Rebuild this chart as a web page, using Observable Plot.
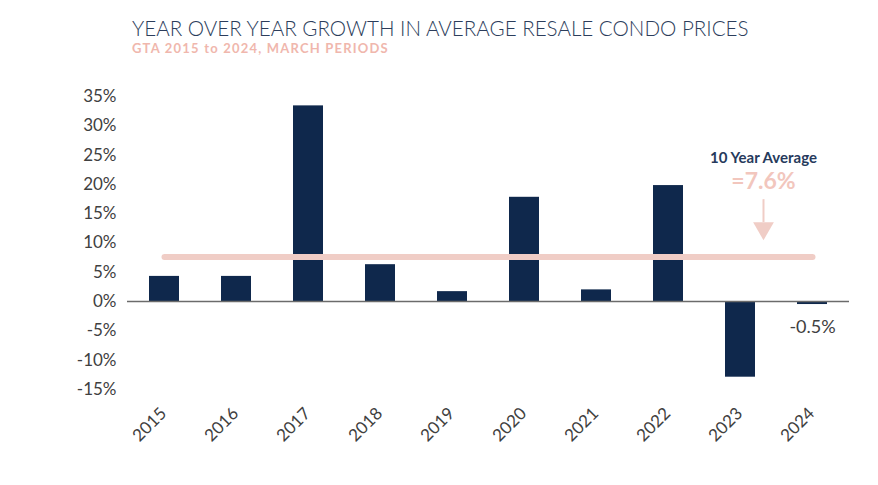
<!DOCTYPE html>
<html>
<head>
<meta charset="utf-8">
<script src="https://cdn.jsdelivr.net/npm/d3@7"></script>
<script src="https://cdn.jsdelivr.net/npm/@observablehq/plot@0.6"></script>
<style>
  html, body { margin: 0; padding: 0; background: #fff; }
  #wrap { width: 878px; height: 485px; position: relative; overflow: hidden; }
  #head { position: relative; height: 70px; }
  #title { position: absolute; left: 132px; top: 17.5px; font-family: Lato, sans-serif; font-weight: 300; font-size: 20.6px; line-height: 20.6px; color: #2c3d5b; white-space: nowrap; }
  #subtitle { position: absolute; left: 132px; top: 41.8px; font-family: Lato, sans-serif; font-weight: 700; font-size: 13px; line-height: 13px; letter-spacing: 1.2px; color: #f0b7ad; white-space: nowrap; }
  svg { display: block; }
</style>
</head>
<body>
<div id="wrap">
  <div id="head">
    <div id="title">YEAR OVER YEAR GROWTH IN AVERAGE RESALE CONDO PRICES</div>
    <div id="subtitle">GTA 2015 to 2024, MARCH PERIODS</div>
  </div>
  <div id="chart"></div>
</div>
<script>
const years = ["2015", "2016", "2017", "2018", "2019", "2020", "2021", "2022", "2023", "2024"];
const growth = [4.3, 4.3, 33.4, 6.3, 1.7, 17.8, 2.0, 19.8, -12.9, -0.5];
const average = 7.6;
const yTicks = [-15, -10, -5, 0, 5, 10, 15, 20, 25, 30, 35];
const avgLabel = "10 Year Average";
const avgValueLabel = "=7.6%";
const lastLabel = "-0.5%";

const data = years.map((y, i) => ({year: y, value: growth[i]}));
const avgLine = [{year: years[0], value: average}, {year: years[years.length - 1], value: average}];
const annoYear = years[8];

const navy = "#0f284c";
const pink = "#f0cdc6";

const chart = Plot.plot({
  width: 878,
  height: 415,
  marginLeft: 127,
  marginRight: 29,
  marginTop: 26,
  marginBottom: 96,
  style: {fontFamily: "Lato, sans-serif", background: "#fff", color: "#404040"},
  x: {domain: years, paddingInner: 0.583, paddingOuter: 0.305, label: null},
  y: {domain: [-15, 35], label: null},
  marks: [
    Plot.axisY({ticks: yTicks, tickFormat: d => d + "%", tickSize: 0, tickPadding: 11, fontSize: 17, fill: "#404040", label: null}),
    Plot.axisX({tickSize: 0, tickRotate: -45, tickPadding: 25, textAnchor: "end", lineAnchor: "bottom", dx: 3, fontSize: 17, fill: "#404040", label: null}),
    Plot.barY(data, {x: "year", y: "value", fill: navy}),
    Plot.ruleY([0], {stroke: "#6b6b6b", strokeWidth: 1.5}),
    Plot.line(avgLine, {x: "year", y: "value", stroke: pink, strokeWidth: 6, strokeLinecap: "round"}),
    Plot.ruleX([annoYear], {x: d => d, y1: 17.4, y2: 13.5, dx: 23, stroke: pink, strokeWidth: 2}),
    Plot.dot([annoYear], {x: d => d, y: 12.5, dx: 23, symbol: "triangle", rotate: 180, r: 7.7, fill: pink, stroke: "none"}),
    Plot.text([avgLabel], {x: () => annoYear, y: 24.5, dx: 23, text: d => d, fontSize: 15, fontWeight: 700, fill: "#263a5c"}),
    Plot.text([avgValueLabel], {x: () => annoYear, y: 20.4, dx: 23, text: d => d, fontSize: 23, fontWeight: 700, fill: "#f2c6bd"}),
    Plot.text([data[data.length - 1]], {x: "year", y: "value", text: () => lastLabel, dy: 23, fontSize: 18, fill: "#404040"})
  ]
});
document.getElementById("chart").appendChild(chart);
</script>
</body>
</html>
